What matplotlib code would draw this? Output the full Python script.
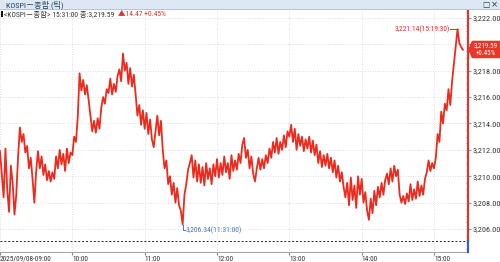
import numpy as np
import matplotlib
matplotlib.use("Agg")
import matplotlib.pyplot as plt
from matplotlib.patches import Rectangle, Polygon
from matplotlib import font_manager

# ---------------- data ----------------
prices = [
    3211.9, 3210.2, 3208.4, 3212.1, 3209.0, 3207.3, 3210.8, 3209.5, 3207.1, 3208.6,
    3211.5, 3213.7, 3212.6, 3213.2, 3211.8, 3212.3, 3210.6, 3211.4, 3209.8, 3208.0,
    3210.4, 3211.9, 3210.6, 3211.5, 3210.1, 3210.9, 3209.7, 3210.4, 3209.6, 3210.3,
    3209.8, 3211.5, 3210.6, 3212.0, 3210.9, 3211.7, 3210.4, 3212.1, 3211.0, 3211.8,
    3211.6, 3213.0, 3212.6, 3214.5, 3217.8, 3216.5, 3217.3, 3216.2, 3216.9, 3215.8,
    3214.6, 3213.4, 3214.2, 3213.3, 3214.4, 3213.6, 3215.2, 3216.0, 3215.5, 3216.6,
    3216.3, 3217.4, 3216.2, 3217.0, 3216.4, 3217.6, 3218.1, 3217.2, 3219.3, 3218.0,
    3218.6, 3217.0, 3218.2, 3216.8, 3217.7, 3216.2, 3214.6, 3215.4, 3213.9, 3215.0,
    3213.6, 3214.8, 3213.2, 3214.3, 3212.8, 3212.2, 3213.4, 3214.6, 3213.1, 3214.2,
    3212.0, 3210.6, 3211.2, 3209.4, 3210.0, 3208.6, 3209.5, 3208.0, 3209.1, 3207.8,
    3207.4, 3206.34, 3208.6, 3209.4, 3210.5, 3211.0, 3211.6, 3209.9, 3211.2, 3209.6,
    3210.9, 3209.5, 3210.7, 3209.3, 3211.0, 3209.8, 3210.6, 3209.4, 3210.9, 3210.0,
    3211.3, 3209.9, 3211.0, 3210.1, 3211.5, 3210.3, 3211.0, 3209.8, 3211.6, 3210.4,
    3211.2, 3210.5, 3211.7, 3211.0, 3212.4, 3212.9, 3211.4, 3212.0, 3210.6, 3211.5,
    3210.2, 3209.6, 3210.6, 3211.4, 3210.5, 3211.3, 3210.6, 3211.6, 3211.0, 3212.1,
    3211.4, 3212.6, 3211.8, 3212.9, 3211.7, 3212.6, 3212.0, 3213.1, 3212.2, 3213.4,
    3213.0, 3213.9, 3212.6, 3213.6, 3212.0, 3213.2, 3212.3, 3213.0, 3211.9, 3212.8,
    3212.1, 3213.0, 3211.8, 3212.7, 3211.6, 3212.4, 3211.0, 3211.9, 3210.7, 3211.6,
    3210.8, 3211.7, 3210.6, 3211.4, 3210.3, 3211.2, 3209.9, 3210.8, 3209.6, 3210.3,
    3209.2, 3208.4, 3209.5, 3207.8, 3209.9, 3208.2, 3209.3, 3207.6, 3210.0, 3208.6,
    3209.8, 3208.0, 3208.8, 3207.4, 3206.7, 3208.3, 3207.2, 3208.9, 3207.8, 3209.2,
    3208.4, 3209.5, 3208.6, 3209.7, 3210.2, 3209.4, 3210.6, 3209.6, 3210.8, 3210.0,
    3210.5, 3208.6, 3208.0, 3208.5, 3207.9, 3208.7, 3208.1, 3209.4, 3208.2, 3209.0,
    3208.3, 3209.6, 3208.5, 3209.3, 3208.6, 3209.8, 3210.3, 3211.2, 3210.4, 3211.0,
    3210.6, 3211.4, 3213.2, 3212.6, 3214.9, 3214.0, 3215.5, 3215.0, 3216.6, 3215.4,
    3217.2, 3218.5, 3219.8, 3221.14, 3220.1, 3219.8, 3219.59,
]
step_minutes = 1.5            # sampling interval of the traced series (minutes from 09:00)
prev_close = 3205.12
last_price = 3219.59
change = 14.47
change_pct = 0.45
max_price, max_time_label = 3221.14, "15:19:30"
min_price, min_time_label = 3206.34, "11:31:00"
y_ticks = [3206, 3208, 3210, 3212, 3214, 3216, 3218, 3220, 3222]
x_ticks = [0, 60, 120, 180, 240, 300, 360]
x_labels = ["2025/09/08-09:00", "10:00", "11:00", "12:00", "13:00", "14:00", "15:00"]

t = np.arange(len(prices)) * step_minutes
i_max = int(np.argmax(prices))
i_min = int(np.argmin(prices))

# ---------------- fonts ----------------
_names = {f.name for f in font_manager.fontManager.ttflist}
_narrow = [n for n in ["Liberation Sans Narrow", "Roboto Condensed", "Open Sans Condensed",
                       "Noto Sans Condensed", "Liberation Sans"] if n in _names]
FAM = (_narrow[:1] if _narrow else []) + ["Noto Sans CJK KR", "DejaVu Sans"]
plt.rcParams["font.family"] = FAM

W, H = 500, 262
RED = "#ec2b1f"
SPINE_RED = "#d8392e"
BLUE = "#3d62ad"
ANN_BLUE = "#4d72b8"

fig = plt.figure(figsize=(W / 100, H / 100), dpi=100)
renderer = fig.canvas.get_renderer()

def fx(x):
    return x / W

def fy(y):
    return 1 - y / H

def fit(txt, target_w, cap=6.6):
    """scale a text's font size so that its rendered width matches target_w pixels"""
    w = txt.get_window_extent(renderer).width
    if w > 0:
        txt.set_fontsize(min(txt.get_fontsize() * target_w / w, cap))
    return txt

def fit_size(s, target_w, base=6.0):
    tmp = fig.text(0, 0, s, fontsize=base)
    w = tmp.get_window_extent(renderer).width
    tmp.remove()
    return base * target_w / w

# axes geometry (pixel)
L_px, R_px, T_px, B_px = 0, 468, 10, 252
ax = fig.add_axes([fx(L_px), fy(B_px), fx(R_px - L_px), (B_px - T_px) / H])
ax.set_facecolor("white")

ax.plot(t, prices, color=RED, lw=1.3, zorder=3)

xmax = 388.2
ybot, ytop = 3204.26, 3222.6
ax.set_xlim(0, xmax)
ax.set_ylim(ybot, ytop)

ytick_fs = min(fit_size("3,222.00", 28.5), 6.6)
xtick_fs = min(fit_size("2025/09/08-09:00", 54), 6.6)

ax.set_yticks(y_ticks)
ax.set_yticklabels([f"{v:,.2f}" for v in y_ticks])
ax.set_xticks(x_ticks)
ax.set_xticklabels(x_labels)
for lab in ax.get_xticklabels():
    lab.set_ha("left")
ax.grid(True, color="#d2d2d2", linestyle=(0, (1, 2)), linewidth=0.6, zorder=0)

ax.yaxis.tick_right()
ax.tick_params(axis="y", which="major", length=2, pad=1.2, labelsize=ytick_fs,
               labelcolor="#333333", color="#999999")
ax.set_yticks(np.arange(3204.5, 3222.6, 0.5), minor=True)
ax.tick_params(axis="y", which="minor", length=1.5, direction="in", color="#c06060", right=True)
ax.tick_params(axis="x", length=2.5, pad=0.2, labelsize=xtick_fs, labelcolor="#333333",
               color="#888888", direction="out")

for s in ["top", "left", "right"]:
    ax.spines[s].set_visible(False)
ax.spines["bottom"].set_color("#a8a8a8")
ax.spines["bottom"].set_linewidth(0.8)

# previous close dashed line
ax.axhline(prev_close, color="#222222", lw=0.7, linestyle=(0, (2, 2)), zorder=2)

# right axis line: red above previous close, blue below
ax.plot([xmax, xmax], [prev_close, ytop], color=SPINE_RED, lw=1.6, clip_on=False, zorder=5)
ax.plot([xmax, xmax], [ybot, prev_close], color=BLUE, lw=1.6, clip_on=False, zorder=5)

# max annotation
tm, vm = t[i_max], prices[i_max]
ax.plot([tm - 6.0, tm], [vm, vm], color=RED, lw=0.7, zorder=4)
tmax = ax.text(tm - 6.6, vm, f"{max_price:,.2f}({max_time_label})", color=RED, fontsize=6,
               ha="right", va="center", zorder=6)
fit(tmax, 56)

# min annotation
tn, vn = t[i_min], prices[i_min]
ax.plot([tn, tn, tn + 2.3], [vn, vn - 0.38, vn - 0.38], color=ANN_BLUE, lw=0.7, zorder=4)
tmin = ax.text(tn + 2.6, vn - 0.40, f"{min_price:,.2f}({min_time_label})", color=ANN_BLUE,
               fontsize=6, ha="left", va="center", zorder=6)
fit(tmin, 57)

# current price tag (it covers the tick label of the level it sits on, as in the reference)
fig.canvas.draw()
px_tip = ax.transData.transform((xmax, last_price))
tip_x, tip_y = px_tip[0], H - px_tip[1]
for lab, v in zip(ax.get_yticklabels(), y_ticks):
    if abs(v - last_price) < 1.0:
        lab.set_visible(False)
poly = [(tip_x, tip_y), (tip_x + 4, tip_y - 9), (W, tip_y - 9), (W, tip_y + 8.5),
        (tip_x + 4, tip_y + 8.5)]
fig.patches.append(Polygon([(fx(a), fy(b)) for a, b in poly], closed=True,
                           transform=fig.transFigure, facecolor="#e8372a",
                           edgecolor="none", zorder=10))
t1 = fig.text(fx(486), fy(tip_y - 4.4), f"{last_price:,.2f}", color="white", fontsize=6,
              ha="center", va="center", zorder=11)
fit(t1, 25, cap=5.0)
t2 = fig.text(fx(486), fy(tip_y + 4.2), f"+{change_pct:.2f}%", color="white", fontsize=6,
              ha="center", va="center", zorder=11)
t2.set_fontsize(t1.get_fontsize())

# title bar
fig.patches.append(Rectangle((0, fy(10)), 1, 10 / H, transform=fig.transFigure,
                             facecolor="#dde8f4", edgecolor="none", zorder=8))
fig.patches.append(Rectangle((0, fy(10)), 1, 0.6 / H, transform=fig.transFigure,
                             facecolor="#b5c6da", edgecolor="none", zorder=8))
tt = fig.text(fx(6), fy(4.8), "KOSPI－종합 (틱)", color="#27415f", fontsize=5.3,
              ha="left", va="center", zorder=9)
fit(tt, 58)
fig.text(fx(482), fy(4.5), "□", color="#333333", fontsize=5.5, ha="left", va="center",
         family=["DejaVu Sans"], zorder=9)
fig.text(fx(491), fy(4.5), "×", color="#333333", fontsize=6, ha="left", va="center",
         family=["DejaVu Sans"], zorder=9)

# header row
fig.patches.append(Rectangle((fx(1), fy(17)), 1.6 / W, 6 / H, transform=fig.transFigure,
                             facecolor="#111111", edgecolor="none", zorder=9))
h1 = fig.text(fx(4.5), fy(14), f"<KOSPI－종합> 15:31:00 종:{last_price:,.2f}", color="#333333",
              fontsize=5.5, ha="left", va="center", zorder=9)
fit(h1, 110)
h2 = fig.text(fx(118), fy(14), f"▲{change:.2f} +{change_pct:.2f}%", color="#e0352a",
              fontsize=5.5, ha="left", va="center", zorder=9)
fit(h2, 47)

fig.savefig("out.png", dpi=100)
